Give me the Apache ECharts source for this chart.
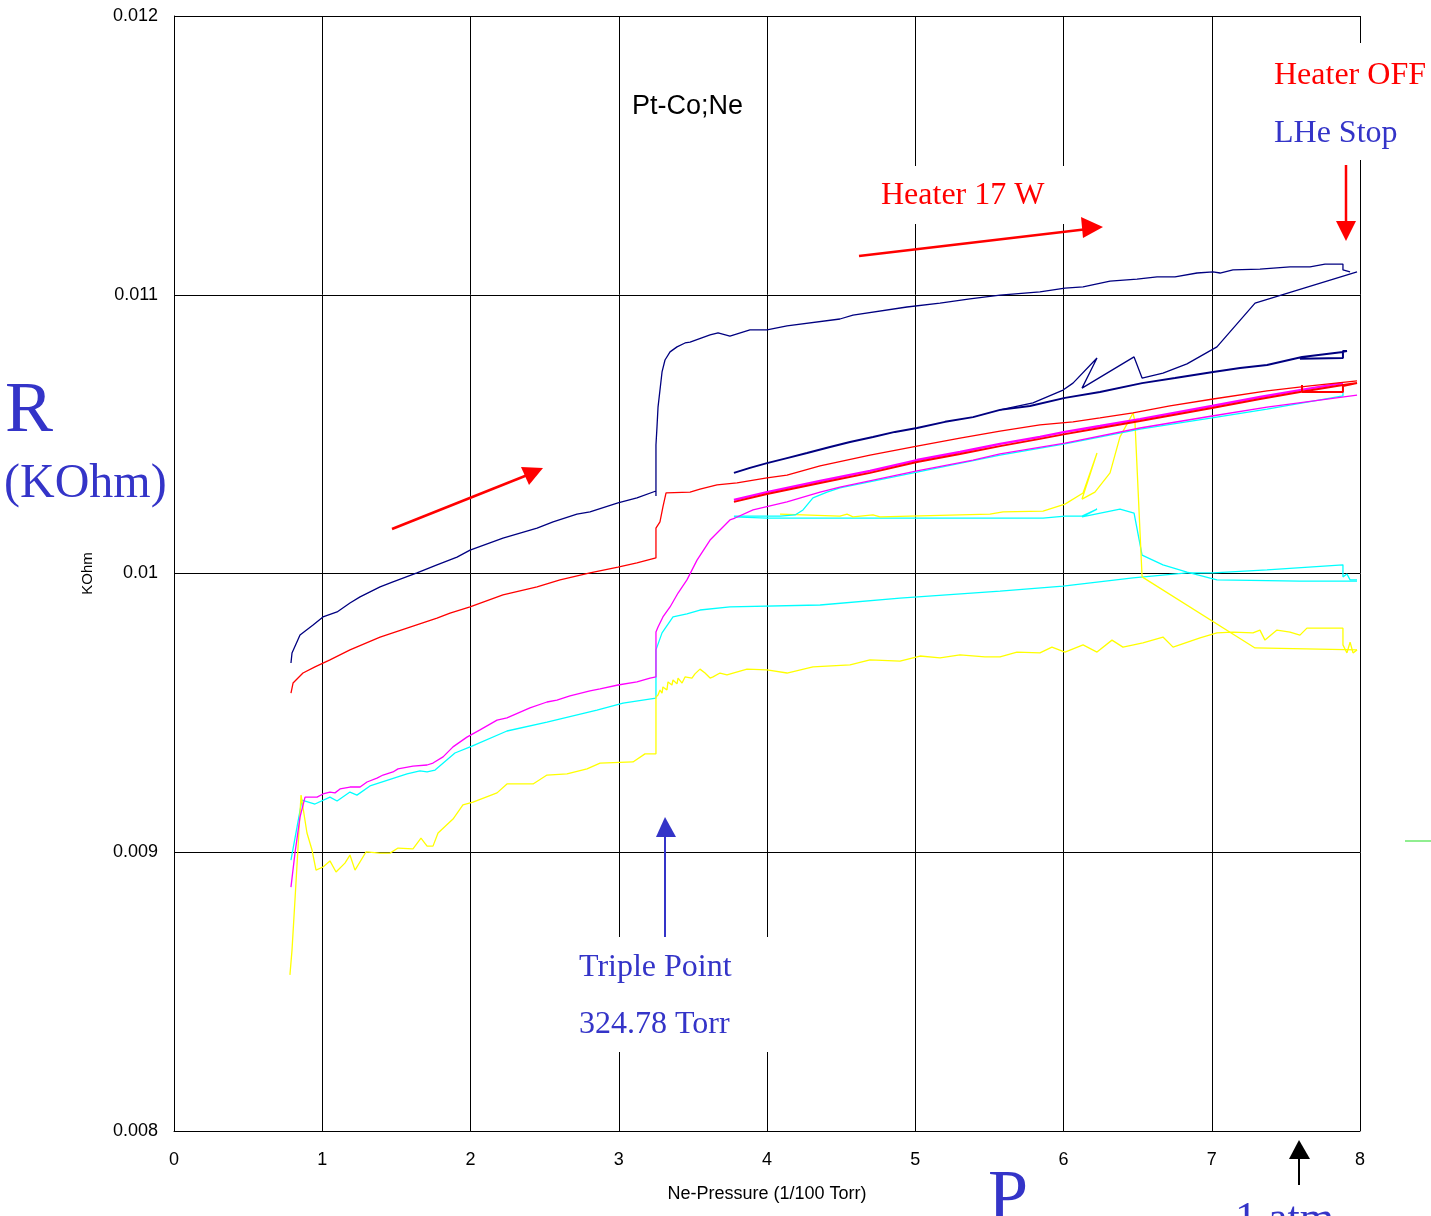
<!DOCTYPE html>
<html>
<head>
<meta charset="utf-8">
<script src="https://cdn.jsdelivr.net/npm/echarts/dist/echarts.min.js"></script>
<style>
  html, body { margin: 0; padding: 0; background: #fff; }
  #chart { width: 1431px; height: 1216px; }
</style>
</head>
<body>
<div id="chart"></div>
<script>
// Pt-Co resistance (KOhm) against Ne pressure (1/100 Torr), several filling runs.

const xRange = [0, 8];
const yRange = [0.008, 0.012];

// dark blue: first run, rising through the triple point and the heater step
const navyRise = [[0.789,0.009679],[0.796,0.009715],[0.850,0.009779],[0.938,0.009815],[1.005,0.009844],[1.100,0.009862],[1.187,0.009894],[1.255,0.009916],[1.390,0.009952],[1.477,0.009970],[1.639,0.010002],[1.774,0.010031],[1.909,0.010059],[1.997,0.010084],[2.219,0.010127],[2.449,0.010163],[2.557,0.010185],[2.718,0.010213],[2.806,0.010221],[2.995,0.010253],[3.123,0.010271],[3.251,0.010296],[3.251,0.010278],[3.251,0.010461],[3.258,0.010526],[3.265,0.010597],[3.292,0.010723],[3.312,0.010766],[3.346,0.010795],[3.393,0.010813],[3.447,0.010827],[3.481,0.010830],[3.616,0.010856],[3.670,0.010863],[3.750,0.010852],[3.885,0.010874],[4.000,0.010874],[4.135,0.010888],[4.492,0.010913],[4.580,0.010927],[4.944,0.010956],[5.167,0.010970],[5.369,0.010985],[5.572,0.010999],[5.841,0.011010],[6.010,0.011024],[6.132,0.011028],[6.314,0.011049],[6.496,0.011056],[6.631,0.011064],[6.752,0.011064],[6.901,0.011078],[7.009,0.011082],[7.056,0.011078],[7.143,0.011089],[7.325,0.011092],[7.528,0.011100],[7.663,0.011100],[7.764,0.011110],[7.885,0.011110],[7.885,0.011089],[7.933,0.011082]];

// dark blue: stepped second run
const navyStair = [[3.777,0.010361],[3.885,0.010379],[4.000,0.010396],[4.135,0.010414],[4.270,0.010432],[4.425,0.010454],[4.560,0.010472],[4.715,0.010490],[4.863,0.010508],[5.012,0.010522],[5.201,0.010544],[5.390,0.010561],[5.572,0.010587],[5.774,0.010601],[6.010,0.010630],[6.246,0.010651],[6.530,0.010683],[6.752,0.010701],[7.009,0.010723],[7.191,0.010737],[7.373,0.010748],[7.609,0.010777],[7.885,0.010795],[7.912,0.010798],[7.885,0.010798],[7.885,0.010773],[7.595,0.010770]];

// dark blue: branch with the two spikes, joining the heater-off point
const navyReturn = [[5.572,0.010587],[5.794,0.010612],[5.997,0.010658],[6.064,0.010683],[6.226,0.010773],[6.125,0.010665],[6.476,0.010777],[6.530,0.010701],[6.671,0.010719],[6.833,0.010752],[7.035,0.010813],[7.292,0.010970],[7.980,0.011082]];

// red runs
const redRise = [[0.789,0.009571],[0.803,0.009607],[0.870,0.009643],[0.951,0.009665],[1.052,0.009690],[1.187,0.009726],[1.390,0.009772],[1.592,0.009808],[1.774,0.009840],[1.862,0.009858],[1.997,0.009880],[2.219,0.009923],[2.449,0.009952],[2.604,0.009977],[2.806,0.010002],[2.995,0.010023],[3.123,0.010038],[3.251,0.010056],[3.251,0.010163],[3.278,0.010185],[3.298,0.010239],[3.319,0.010289],[3.481,0.010292],[3.548,0.010303],[3.663,0.010318],[3.798,0.010325],[4.000,0.010343],[4.135,0.010353],[4.358,0.010386],[4.695,0.010425],[5.012,0.010457],[5.302,0.010486],[5.572,0.010511],[5.841,0.010533],[6.064,0.010544],[6.246,0.010558],[6.469,0.010576],[6.718,0.010601],[7.009,0.010626],[7.373,0.010655],[7.663,0.010673],[7.980,0.010691]];

const redStair = [[3.777,0.010257],[4.000,0.010285],[4.358,0.010325],[4.695,0.010361],[5.012,0.010400],[5.302,0.010429],[5.572,0.010457],[5.841,0.010483],[6.010,0.010500],[6.246,0.010522],[6.516,0.010547],[7.002,0.010594],[7.326,0.010626],[7.595,0.010651],[7.885,0.010676],[7.980,0.010683],[7.885,0.010673],[7.885,0.010651],[7.609,0.010651],[7.609,0.010676]];

// magenta runs
const magentaStair = [[3.777,0.010264],[4.000,0.010292],[4.358,0.010332],[4.695,0.010368],[5.012,0.010407],[5.302,0.010436],[5.572,0.010465],[5.841,0.010490],[6.010,0.010508],[6.246,0.010529],[6.516,0.010554],[7.002,0.010601],[7.326,0.010633],[7.595,0.010658],[7.885,0.010683]];

const magentaRise = [[0.789,0.008875],[0.816,0.008997],[0.850,0.009126],[0.884,0.009198],[0.965,0.009198],[1.005,0.009209],[1.052,0.009216],[1.086,0.009213],[1.120,0.009227],[1.187,0.009234],[1.255,0.009234],[1.302,0.009252],[1.369,0.009266],[1.410,0.009277],[1.477,0.009288],[1.511,0.009299],[1.612,0.009309],[1.707,0.009313],[1.747,0.009320],[1.815,0.009342],[1.882,0.009378],[1.976,0.009413],[2.064,0.009439],[2.179,0.009474],[2.246,0.009482],[2.401,0.009518],[2.516,0.009539],[2.583,0.009546],[2.671,0.009561],[2.806,0.009579],[2.874,0.009586],[2.995,0.009600],[3.123,0.009611],[3.211,0.009625],[3.251,0.009629],[3.251,0.009790],[3.265,0.009808],[3.298,0.009844],[3.346,0.009880],[3.400,0.009930],[3.460,0.009977],[3.528,0.010048],[3.616,0.010120],[3.683,0.010156],[3.750,0.010192],[3.784,0.010199],[3.906,0.010228],[4.135,0.010257],[4.358,0.010292],[4.492,0.010310],[5.012,0.010368],[5.390,0.010407],[5.572,0.010429],[6.010,0.010468],[6.516,0.010522],[7.002,0.010565],[7.373,0.010597],[7.980,0.010640]];

// cyan runs
const cyanRise = [[0.789,0.008972],[0.863,0.009187],[0.951,0.009173],[1.052,0.009198],[1.100,0.009184],[1.187,0.009216],[1.234,0.009205],[1.322,0.009238],[1.572,0.009281],[1.659,0.009292],[1.707,0.009288],[1.761,0.009295],[1.895,0.009356],[2.010,0.009381],[2.246,0.009435],[2.516,0.009467],[2.853,0.009510],[3.029,0.009535],[3.251,0.009553],[3.251,0.009726],[3.292,0.009787],[3.366,0.009844],[3.460,0.009855],[3.548,0.009869],[3.750,0.009880],[4.358,0.009887],[4.897,0.009912],[5.572,0.009937],[5.997,0.009955],[6.469,0.009984],[6.833,0.010002],[7.009,0.010002],[7.373,0.010013],[7.885,0.010031],[7.885,0.009988],[7.912,0.009998],[7.933,0.009977],[7.980,0.009977]];

const cyanFlat = [[3.777,0.010203],[4.000,0.010199],[4.897,0.010199],[5.862,0.010199],[6.010,0.010206],[6.125,0.010206],[6.226,0.010231],[6.125,0.010203],[6.381,0.010231],[6.476,0.010217],[6.530,0.010066],[6.671,0.010031],[6.833,0.010005],[7.035,0.009977],[7.595,0.009973],[7.980,0.009973]];

const cyanBranch = [[3.777,0.010206],[4.088,0.010206],[4.189,0.010210],[4.243,0.010228],[4.310,0.010271],[4.405,0.010292],[4.492,0.010307],[5.012,0.010364],[5.572,0.010425],[6.010,0.010465],[6.516,0.010518],[7.002,0.010558],[7.373,0.010590],[7.885,0.010637],[7.885,0.010673]];

// yellow runs
const yellowRise = [[0.782,0.008560],[0.796,0.008649],[0.816,0.008829],[0.857,0.009205],[0.897,0.009069],[0.931,0.009008],[0.958,0.008936],[1.005,0.008947],[1.052,0.008969],[1.093,0.008929],[1.153,0.008961],[1.187,0.008990],[1.221,0.008936],[1.295,0.009001],[1.390,0.008997],[1.457,0.008997],[1.511,0.009015],[1.612,0.009012],[1.666,0.009051],[1.707,0.009022],[1.747,0.009022],[1.781,0.009069],[1.882,0.009119],[1.949,0.009170],[2.017,0.009180],[2.179,0.009213],[2.246,0.009245],[2.422,0.009245],[2.516,0.009277],[2.651,0.009281],[2.786,0.009299],[2.874,0.009320],[3.096,0.009324],[3.177,0.009353],[3.251,0.009353],[3.251,0.009482],[3.251,0.009557],[3.265,0.009564],[3.278,0.009582],[3.292,0.009571],[3.298,0.009593],[3.325,0.009582],[3.332,0.009611],[3.359,0.009600],[3.366,0.009618],[3.393,0.009604],[3.400,0.009625],[3.427,0.009607],[3.447,0.009629],[3.460,0.009636],[3.494,0.009625],[3.514,0.009640],[3.548,0.009657],[3.582,0.009643],[3.616,0.009625],[3.636,0.009629],[3.683,0.009643],[3.730,0.009636],[3.771,0.009643],[3.865,0.009657],[4.000,0.009654],[4.135,0.009643],[4.310,0.009665],[4.560,0.009672],[4.695,0.009690],[4.897,0.009686],[5.032,0.009704],[5.167,0.009697],[5.302,0.009708],[5.470,0.009701],[5.572,0.009701],[5.686,0.009718],[5.841,0.009715],[5.922,0.009736],[6.010,0.009718],[6.132,0.009744],[6.226,0.009718],[6.327,0.009761],[6.401,0.009736],[6.536,0.009751],[6.671,0.009772],[6.739,0.009736],[6.921,0.009769],[7.035,0.009787],[7.143,0.009790],[7.278,0.009787],[7.325,0.009797],[7.359,0.009761],[7.440,0.009797],[7.528,0.009790],[7.595,0.009779],[7.642,0.009804],[7.730,0.009804],[7.885,0.009804],[7.885,0.009744],[7.912,0.009715],[7.933,0.009754],[7.953,0.009715],[7.980,0.009726]];

const yellowFlat = [[4.088,0.010213],[4.492,0.010206],[4.540,0.010213],[4.580,0.010203],[4.715,0.010210],[4.762,0.010203],[5.504,0.010213],[5.592,0.010221],[5.862,0.010224],[6.010,0.010249],[6.132,0.010289],[6.226,0.010432],[6.125,0.010267],[6.212,0.010292],[6.314,0.010361],[6.381,0.010490],[6.469,0.010576],[6.482,0.010544],[6.530,0.009988],[7.292,0.009733],[7.980,0.009726]];

const NAVY = '#000080', RED = '#ff0000', MAGENTA = '#ff00ff', CYAN = '#00ffff', YELLOW = '#ffff00';
const BLUE_TEXT = '#3434c8';
const SERIF = '"Liberation Serif", "Times New Roman", serif';
const SANS = '"Liberation Sans", Arial, sans-serif';

function run(name, data, color, width) {
  return {
    name, type: 'line', data,
    showSymbol: false, symbol: 'none', silent: true,
    lineStyle: { color, width: width || 1.3 },
    itemStyle: { color },
    emphasis: { disabled: true }
  };
}

const chart = echarts.init(document.getElementById('chart'), null, { renderer: 'canvas' });

// arrows and labels drawn on top of the plot
function arrow(x1, y1, x2, y2, head, color, width) {
  return [
    { type: 'line', z: 20, shape: { x1, y1, x2, y2 }, style: { stroke: color, lineWidth: width } },
    { type: 'polygon', z: 20, shape: { points: head }, style: { fill: color } }
  ];
}
function label(text, x, y, font, color) {
  return { type: 'text', z: 21, style: { text, x, y, font, fill: color, align: 'left', verticalAlign: 'middle' } };
}

const graphics = [
  { type: 'rect', z: 15, shape: { x: 868, y: 166, width: 203, height: 58 }, style: { fill: '#fff' } },
  { type: 'rect', z: 15, shape: { x: 566, y: 937, width: 207, height: 115 }, style: { fill: '#fff' } },
  { type: 'rect', z: 15, shape: { x: 1262, y: 43, width: 169, height: 117 }, style: { fill: '#fff' } },

  label('R', 5, 412, '72px ' + SERIF, BLUE_TEXT),
  label('(KOhm)', 4, 484, '48px ' + SERIF, BLUE_TEXT),
  label('Pt-Co;Ne', 632, 107, '27px ' + SANS, '#000'),
  label('Heater 17 W', 881, 196, '32px ' + SERIF, RED),
  label('Heater OFF', 1274, 76, '32px ' + SERIF, RED),
  label('LHe Stop', 1274, 134, '32px ' + SERIF, BLUE_TEXT),
  label('Triple Point', 579, 968, '32px ' + SERIF, BLUE_TEXT),
  label('324.78 Torr', 579, 1025, '32px ' + SERIF, BLUE_TEXT),
  label('P', 988, 1200, '72px ' + SERIF, BLUE_TEXT),
  label('1 atm', 1235, 1220, '44px ' + SERIF, BLUE_TEXT),

  ...arrow(392, 529, 530, 474, [[521, 467], [543, 468], [529, 485]], RED, 2.5),
  ...arrow(859, 256, 1088, 229, [[1081, 217], [1103, 227], [1083, 238]], RED, 2.5),
  ...arrow(1346, 165, 1346, 225, [[1336, 221], [1356, 221], [1346, 241]], RED, 2.5),
  ...arrow(665, 937, 665, 835, [[656, 837], [676, 837], [665, 817]], BLUE_TEXT, 2),
  ...arrow(1299, 1185, 1299, 1157, [[1289, 1159], [1310, 1159], [1299, 1140]], '#000', 2),
  { type: 'line', z: 20, shape: { x1: 1405, y1: 841, x2: 1431, y2: 841 }, style: { stroke: '#90ee90', lineWidth: 2 } }
];

chart.setOption({
  animation: false,
  backgroundColor: '#fff',
  grid: { left: 174, top: 16, right: 71, bottom: 85, containLabel: false },
  xAxis: {
    type: 'value', min: xRange[0], max: xRange[1], interval: 1,
    name: 'Ne-Pressure (1/100 Torr)', nameLocation: 'middle', nameGap: 54,
    nameTextStyle: { color: '#000', fontSize: 18, fontFamily: SANS },
    axisLine: { show: true, lineStyle: { color: '#000', width: 1 } },
    axisTick: { show: false },
    axisLabel: { color: '#000', fontSize: 18, fontFamily: SANS, margin: 20 },
    splitLine: { show: true, lineStyle: { color: '#000', width: 1 } }
  },
  yAxis: {
    type: 'value', min: yRange[0], max: yRange[1], interval: 0.001,
    name: 'KOhm', nameLocation: 'middle', nameRotate: 90, nameGap: 79,
    nameTextStyle: { color: '#000', fontSize: 15, fontFamily: SANS },
    axisLine: { show: true, lineStyle: { color: '#000', width: 1 } },
    axisTick: { show: true, inside: true, length: 6, lineStyle: { color: '#000' } },
    axisLabel: { color: '#000', fontSize: 18, fontFamily: SANS, margin: 16,
      formatter: v => String(+v.toFixed(3)) },
    splitLine: { show: true, lineStyle: { color: '#000', width: 1 } }
  },
  series: [
    run('cyan flat', cyanFlat, CYAN),
    run('cyan rise', cyanRise, CYAN),
    run('yellow rise', yellowRise, YELLOW),
    run('yellow flat', yellowFlat, YELLOW),
    run('cyan branch', cyanBranch, CYAN),
    run('magenta rise', magentaRise, MAGENTA),
    run('magenta stair', magentaStair, MAGENTA, 2.4),
    run('red stair', redStair, RED, 2),
    run('red rise', redRise, RED),
    run('navy stair', navyStair, NAVY, 2),
    run('navy return', navyReturn, NAVY),
    run('navy rise', navyRise, NAVY)
  ],
  graphic: { elements: graphics }
});
</script>
</body>
</html>
